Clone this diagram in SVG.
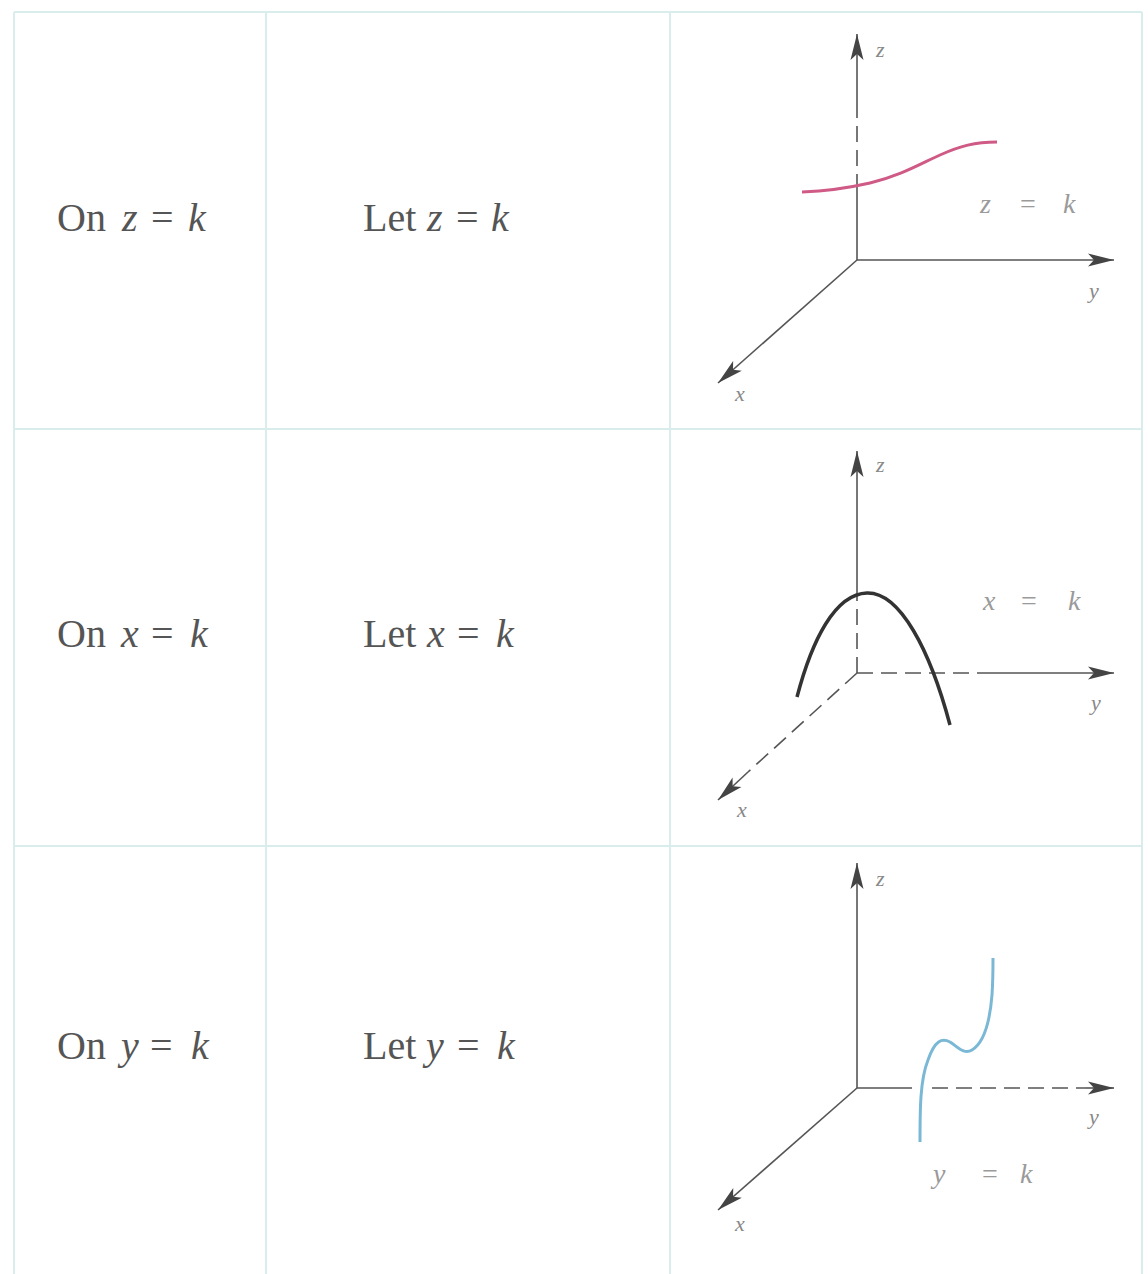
<svg xmlns="http://www.w3.org/2000/svg" width="1148" height="1274" viewBox="0 0 1148 1274">
  <style>
    .grid { stroke: #d9eeec; stroke-width: 2; fill: none; }
    .ax { stroke: #555; stroke-width: 1.6; fill: none; }
    .dash { stroke-dasharray: 16 8; }
    .main { font-family: "Liberation Serif", "Times New Roman", "DejaVu Serif", serif; font-size: 40px; fill: #555; }
    .it { font-style: italic; }
    .lab { font-family: "Liberation Serif", "Times New Roman", "DejaVu Serif", serif; font-style: italic; font-size: 28px; fill: #9a9a9a; }
    .eq { font-style: normal; }
    .axl { font-family: "Liberation Serif", "Times New Roman", "DejaVu Serif", serif; font-style: italic; font-size: 22px; fill: #888; }
  </style>
  <defs>
    <marker id="arr" markerUnits="userSpaceOnUse" markerWidth="28" markerHeight="14" refX="26" refY="7" orient="auto">
      <path d="M0,0.5 L26,7 L0,13.5 L6,7 z" fill="#444"/>
    </marker>
  </defs>
  <rect width="1148" height="1274" fill="#ffffff"/>

  <g id="grid">
    <line class="grid" x1="14" y1="12" x2="1142" y2="12"/>
    <line class="grid" x1="14" y1="429" x2="1142" y2="429"/>
    <line class="grid" x1="14" y1="846" x2="1142" y2="846"/>
    <line class="grid" x1="14" y1="12" x2="14" y2="1274"/>
    <line class="grid" x1="266" y1="12" x2="266" y2="1274"/>
    <line class="grid" x1="670" y1="12" x2="670" y2="1274"/>
    <line class="grid" x1="1142" y1="12" x2="1142" y2="1274"/>
  </g>

  <g id="row1-text">
    <text class="main" y="231"><tspan x="57">On</tspan><tspan class="it" x="122">z</tspan><tspan x="151">=</tspan><tspan class="it" x="188">k</tspan></text>
    <text class="main" y="231"><tspan x="363">Let</tspan><tspan class="it" x="427">z</tspan><tspan x="456">=</tspan><tspan class="it" x="491">k</tspan></text>
  </g>
  <g id="row2-text">
    <text class="main" y="647"><tspan x="57">On</tspan><tspan class="it" x="121">x</tspan><tspan x="151">=</tspan><tspan class="it" x="190">k</tspan></text>
    <text class="main" y="647"><tspan x="363">Let</tspan><tspan class="it" x="427">x</tspan><tspan x="457">=</tspan><tspan class="it" x="496">k</tspan></text>
  </g>
  <g id="row3-text">
    <text class="main" y="1059"><tspan x="57">On</tspan><tspan class="it" x="121">y</tspan><tspan x="150">=</tspan><tspan class="it" x="191">k</tspan></text>
    <text class="main" y="1059"><tspan x="363">Let</tspan><tspan class="it" x="426">y</tspan><tspan x="457">=</tspan><tspan class="it" x="497">k</tspan></text>
  </g>

  <g id="connectors">
    <!-- diagram 1 axes -->
    <line class="ax" x1="857" y1="260" x2="857" y2="190"/>
    <line class="ax dash" x1="857" y1="190" x2="857" y2="103"/>
    <line class="ax" x1="857" y1="103" x2="857" y2="34" marker-end="url(#arr)"/>
    <line class="ax" x1="857" y1="260" x2="1114" y2="260" marker-end="url(#arr)"/>
    <line class="ax" x1="857" y1="260" x2="718" y2="383" marker-end="url(#arr)"/>
    <!-- diagram 2 axes -->
    <line class="ax dash" x1="857" y1="673" x2="857" y2="596"/>
    <line class="ax" x1="857" y1="596" x2="857" y2="451" marker-end="url(#arr)"/>
    <line class="ax dash" x1="857" y1="673" x2="990" y2="673"/>
    <line class="ax" x1="990" y1="673" x2="1114" y2="673" marker-end="url(#arr)"/>
    <line class="ax dash" x1="857" y1="673" x2="748" y2="772"/>
    <line class="ax" x1="748" y1="772" x2="718" y2="800" marker-end="url(#arr)"/>
    <!-- diagram 3 axes -->
    <line class="ax" x1="857" y1="1088" x2="857" y2="863" marker-end="url(#arr)"/>
    <line class="ax" x1="857" y1="1088" x2="912" y2="1088"/>
    <line class="ax dash" x1="932" y1="1088" x2="1086" y2="1088"/>
    <line class="ax" x1="1086" y1="1088" x2="1114" y2="1088" marker-end="url(#arr)"/>
    <line class="ax" x1="857" y1="1088" x2="718" y2="1210" marker-end="url(#arr)"/>
  </g>

  <g id="diagram1">
    <path d="M802,192 C830,191 848,188 870,183 C900,176 920,164 940,155 C960,146 975,142 997,142" fill="none" stroke="#cf5a86" stroke-width="3"/>
    <text class="lab" y="213"><tspan x="980">z</tspan><tspan class="eq" x="1020">=</tspan><tspan x="1063">k</tspan></text>
    <text class="axl" x="876" y="57">z</text>
    <text class="axl" x="1089" y="298">y</text>
    <text class="axl" x="735" y="401">x</text>
  </g>

  <g id="diagram2">
    <path d="M797,697 C812,640 835,594 867,593 C900,592 930,650 950,725" fill="none" stroke="#333" stroke-width="3.5"/>
    <text class="lab" y="610"><tspan x="983">x</tspan><tspan class="eq" x="1021">=</tspan><tspan x="1068">k</tspan></text>
    <text class="axl" x="876" y="472">z</text>
    <text class="axl" x="1091" y="710">y</text>
    <text class="axl" x="737" y="817">x</text>
  </g>

  <g id="diagram3">
    <path d="M920,1142 C920,1110 920,1080 928,1060 C935,1040 942,1038 950,1042 C958,1047 964,1055 972,1050 C985,1042 990,1020 992,995 C993,980 993,968 993,958" fill="none" stroke="#7ab8d6" stroke-width="3"/>
    <text class="lab" y="1183"><tspan x="933">y</tspan><tspan class="eq" x="982">=</tspan><tspan x="1020">k</tspan></text>
    <text class="axl" x="876" y="886">z</text>
    <text class="axl" x="1089" y="1124">y</text>
    <text class="axl" x="735" y="1231">x</text>
  </g>
</svg>
